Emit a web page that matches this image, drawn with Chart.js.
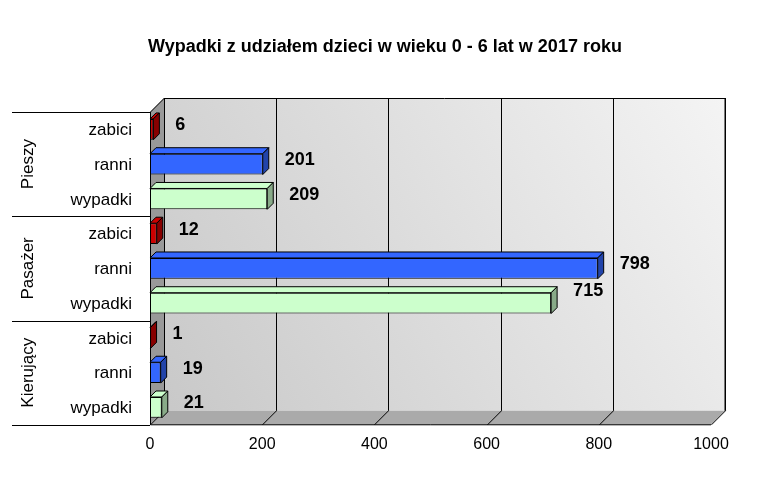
<!DOCTYPE html>
<html><head><meta charset="utf-8">
<script src="https://cdn.jsdelivr.net/npm/chart.js@4"></script>
<style>html,body{margin:0;padding:0;background:#fff}#w{width:769px;height:502px}</style>
</head><body><div id="w"><canvas id="c"></canvas></div>
<script>
const titleText = 'Wypadki z udziałem dzieci w wieku 0 - 6 lat w 2017 roku';
const groups = ['Pieszy', 'Pasażer', 'Kierujący'];
const rowLabels = ['zabici','ranni','wypadki','zabici','ranni','wypadki','zabici','ranni','wypadki'];
const values = [6, 201, 209, 12, 798, 715, 1, 19, 21];
const xTicks = [0, 200, 400, 600, 800, 1000];
const typeColors = {zabici:'#cc0000', ranni:'#3366ff', wypadki:'#ccffcc'};
const typeDark = {zabici:'#880000', ranni:'#2244aa', wypadki:'#88aa88'};

const DX = 14, DY = 14, BD = 6;
const deco = {
  id:'deco',
  beforeDatasetsDraw(ch){
    const c = ch.ctx, a = ch.chartArea, xs = ch.scales.x;
    c.save();
    c.fillStyle='#000'; c.font='bold 18px Arial'; c.textAlign='center'; c.textBaseline='middle';
    c.fillText(titleText, 385, 47);
    const g = c.createLinearGradient(a.left+DX, a.bottom, a.right+DX, a.top-DY);
    g.addColorStop(0,'#c8c8c8'); g.addColorStop(1,'#f4f4f4');
    c.fillStyle=g; c.fillRect(a.left+DX, a.top-DY, a.right-a.left, a.bottom-a.top);
    c.fillStyle='#999';
    c.beginPath(); c.moveTo(a.left,a.top); c.lineTo(a.left+DX,a.top-DY); c.lineTo(a.left+DX,a.bottom-DY); c.lineTo(a.left,a.bottom); c.closePath(); c.fill();
    c.fillStyle='#aaa';
    c.beginPath(); c.moveTo(a.left,a.bottom); c.lineTo(a.right,a.bottom); c.lineTo(a.right+DX,a.bottom-DY); c.lineTo(a.left+DX,a.bottom-DY); c.closePath(); c.fill();
    c.strokeStyle='#000'; c.lineWidth=1;
    xTicks.forEach(v=>{
      const x = Math.round(xs.getPixelForValue(v))+0.5;
      c.beginPath(); c.moveTo(x+DX, a.top-DY); c.lineTo(x+DX, a.bottom-DY); c.lineTo(x, a.bottom); c.stroke();
    });
    c.beginPath(); c.moveTo(a.left+DX, a.top-DY+0.5); c.lineTo(a.right+DX, a.top-DY+0.5); c.lineTo(a.right+DX, a.bottom-DY); c.stroke();
    c.beginPath(); c.moveTo(a.left+0.5, a.top); c.lineTo(a.left+DX+0.5, a.top-DY); c.stroke();
    c.beginPath(); c.moveTo(a.left+0.5, a.top); c.lineTo(a.left+0.5, a.bottom); c.lineTo(a.right, a.bottom); c.stroke();
    const ys = ch.scales.y;
    c.font='17px Arial'; c.textAlign='right'; c.fillStyle='#000';
    rowLabels.forEach((l,i)=>c.fillText(l, 132, ys.getPixelForValue(i)+1));
    const rh = (a.bottom-a.top)/rowLabels.length;
    for(let k=0;k<=3;k++){
      const y = Math.round(a.top + k*3*rh)+0.5;
      c.beginPath(); c.moveTo(12,y); c.lineTo(a.left,y); c.stroke();
    }
    groups.forEach((gname,k)=>{
      c.save(); c.translate(28, a.top + (k*3+1.5)*rh); c.rotate(-Math.PI/2);
      c.textAlign='center'; c.fillText(gname,0,0); c.restore();
    });
    c.restore();
  },
  afterDatasetsDraw(ch){
    const c = ch.ctx, meta = ch.getDatasetMeta(0);
    c.save();
    meta.data.forEach((b,i)=>{
      const t = rowLabels[i];
      const top = b.y - b.height/2, bot = b.y + b.height/2, l = b.base, r = b.x;
      c.strokeStyle='#000'; c.lineWidth=1;
      c.fillStyle=typeColors[t];
      c.beginPath(); c.moveTo(l,top); c.lineTo(l+BD,top-BD); c.lineTo(r+BD,top-BD); c.lineTo(r,top); c.closePath(); c.fill(); c.stroke();
      c.fillStyle=typeDark[t];
      c.beginPath(); c.moveTo(r,top); c.lineTo(r+BD,top-BD); c.lineTo(r+BD,bot-BD); c.lineTo(r,bot); c.closePath(); c.fill(); c.stroke();
      c.fillStyle='#000'; c.font='bold 18px Arial'; c.textAlign='left'; c.textBaseline='middle';
      let ly = b.y - 4, lx = r + 22;
      if (values[i] === 715) { ly = b.y - 12; lx = r + 22; }
      c.fillText(String(values[i]), lx, ly);
    });
    c.restore();
  }
};

new Chart(document.getElementById('c'), {
  type:'bar',
  data:{ labels: rowLabels.map((l,i)=>i), datasets:[{
    data: values,
    backgroundColor: rowLabels.map(l=>typeColors[l]),
    borderColor:'#000', borderWidth:1, borderSkipped:false,
    barPercentage:0.6, categoryPercentage:1
  }]},
  options:{
    indexAxis:'y', responsive:true, maintainAspectRatio:false, animation:false,
    layout:{padding:{left:150, right:58, top:112, bottom:46}},
    plugins:{legend:{display:false}, title:{display:false}, tooltip:{enabled:false}},
    scales:{
      x:{min:0, max:1000, grid:{display:false}, border:{display:false},
         afterBuildTicks(s){ s.ticks = xTicks.map(v=>({value:v})); },
         ticks:{font:{family:'Arial', size:16}, color:'#000', padding:2, callback:(v)=>String(v)}},
      y:{display:false, grid:{display:false}}
    }
  },
  plugins:[deco]
});
</script></body></html>
